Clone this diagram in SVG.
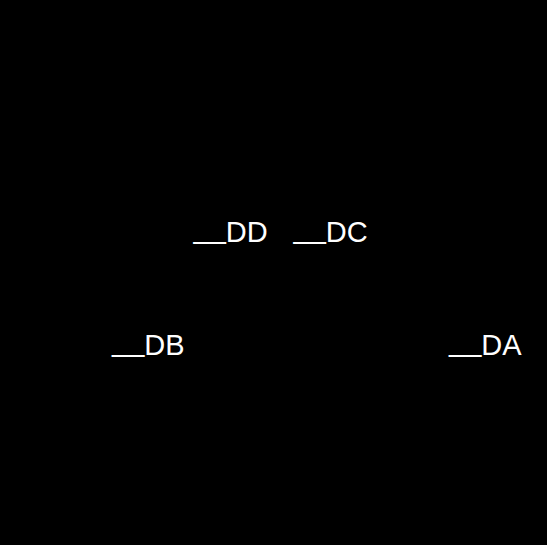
<svg xmlns="http://www.w3.org/2000/svg" width="547" height="545" viewBox="0 0 547 545">
<style>
.lbl{font-family:"Liberation Sans",Arial,sans-serif;font-size:29px;fill:#ffffff}
</style>
<rect x="0" y="0" width="547" height="545" fill="#000000"/>
<g id="connectors"></g>
<g id="node-DD"><text class="lbl" x="193.5" y="241.5"><tspan dy="-4">__</tspan><tspan dy="4">DD</tspan></text></g>
<g id="node-DC"><text class="lbl" x="293.5" y="241.5"><tspan dy="-4">__</tspan><tspan dy="4">DC</tspan></text></g>
<g id="node-DB"><text class="lbl" x="112" y="354.5"><tspan dy="-4">__</tspan><tspan dy="4">DB</tspan></text></g>
<g id="node-DA"><text class="lbl" x="449" y="354.5"><tspan dy="-4">__</tspan><tspan dy="4">DA</tspan></text></g>
</svg>
